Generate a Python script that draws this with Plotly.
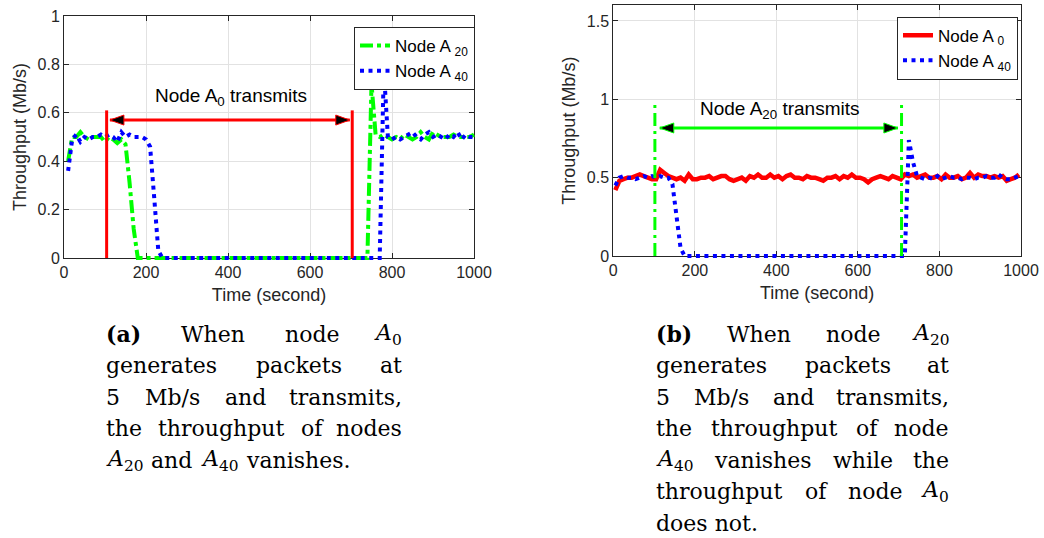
import plotly.graph_objects as go

W, H = 1044, 538

# ---------------- data ----------------
time_a = [10, 20, 30, 40, 50, 60, 70, 80, 90, 100,
          110, 120, 130, 140, 150, 160, 170, 180, 190, 200,
          210, 220, 230, 240, 250, 260, 270, 280, 290, 300,
          310, 320, 330, 340, 350, 360, 370, 380, 390, 400,
          410, 420, 430, 440, 450, 460, 470, 480, 490, 500,
          510, 520, 530, 540, 550, 560, 570, 580, 590, 600,
          610, 620, 630, 640, 650, 660, 670, 680, 690, 700,
          710, 720, 730, 740, 750, 760, 770, 780, 790, 800,
          810, 820, 830, 840, 850, 860, 870, 880, 890, 900,
          910, 920, 930, 940, 950, 960, 970, 980, 990, 1000]

a20_left = [0.40, 0.50, 0.50, 0.52, 0.50, 0.49, 0.50, 0.50, 0.50, 0.48,
            0.50, 0.49, 0.475, 0.49, 0.47, 0.31, 0.12, 0, 0, 0,
            0, 0, 0, 0, 0, 0, 0, 0, 0, 0,
            0, 0, 0, 0, 0, 0, 0, 0, 0, 0,
            0, 0, 0, 0, 0, 0, 0, 0, 0, 0,
            0, 0, 0, 0, 0, 0, 0, 0, 0, 0,
            0, 0, 0, 0, 0, 0, 0, 0, 0, 0,
            0, 0, 0, 0, 0.72, 0.51, 0.50, 0.51, 0.50, 0.49,
            0.50, 0.49, 0.51, 0.50, 0.49, 0.50, 0.52, 0.50, 0.49, 0.52,
            0.51, 0.50, 0.50, 0.50, 0.51, 0.50, 0.50, 0.50, 0.50, 0.51]

a40_left = [0.36, 0.49, 0.51, 0.48, 0.50, 0.49, 0.50, 0.50, 0.51, 0.50,
            0.51, 0.50, 0.48, 0.52, 0.50, 0.51, 0.50, 0.50, 0.50, 0.49,
            0.46, 0.25, 0.03, 0, 0, 0, 0, 0, 0, 0,
            0, 0, 0, 0, 0, 0, 0, 0, 0, 0,
            0, 0, 0, 0, 0, 0, 0, 0, 0, 0,
            0, 0, 0, 0, 0, 0, 0, 0, 0, 0,
            0, 0, 0, 0, 0, 0, 0, 0, 0, 0,
            0, 0, 0, 0, 0, 0, 0, 0.78, 0.50, 0.49,
            0.50, 0.49, 0.50, 0.51, 0.52, 0.50, 0.49, 0.51, 0.52, 0.50,
            0.51, 0.50, 0.49, 0.51, 0.50, 0.52, 0.49, 0.51, 0.50, 0.50]

time_b = [5, 15, 25, 35, 45, 55, 65, 75, 85, 95,
          105, 115, 125, 135, 145, 155, 165, 175, 185, 195,
          205, 215, 225, 235, 245, 255, 265, 275, 285, 295,
          305, 315, 325, 335, 345, 355, 365, 375, 385, 395,
          405, 415, 425, 435, 445, 455, 465, 475, 485, 495,
          505, 515, 525, 535, 545, 555, 565, 575, 585, 595,
          605, 615, 625, 635, 645, 655, 665, 675, 685, 695,
          705, 715, 725, 735, 745, 755, 765, 775, 785, 795,
          805, 815, 825, 835, 845, 855, 865, 875, 885, 895,
          905, 915, 925, 935, 945, 955, 965, 975, 985, 995]

a0_right = [0.42, 0.48, 0.49, 0.50, 0.50, 0.51, 0.52, 0.51, 0.50, 0.49,
            0.49, 0.55, 0.53, 0.51, 0.50, 0.49, 0.50, 0.48, 0.52, 0.49,
            0.49, 0.50, 0.50, 0.51, 0.49, 0.50, 0.51, 0.51, 0.49, 0.48,
            0.49, 0.50, 0.48, 0.51, 0.50, 0.52, 0.50, 0.50, 0.52, 0.50,
            0.51, 0.49, 0.51, 0.52, 0.50, 0.50, 0.49, 0.51, 0.50, 0.50,
            0.49, 0.48, 0.50, 0.50, 0.51, 0.49, 0.51, 0.50, 0.52, 0.50,
            0.50, 0.49, 0.47, 0.49, 0.50, 0.51, 0.50, 0.49, 0.51, 0.50,
            0.49, 0.52, 0.51, 0.52, 0.50, 0.51, 0.52, 0.50, 0.50, 0.51,
            0.49, 0.52, 0.50, 0.50, 0.51, 0.49, 0.50, 0.53, 0.50, 0.52,
            0.51, 0.51, 0.50, 0.51, 0.50, 0.51, 0.48, 0.49, 0.50, 0.52]

a40_right = [0.45, 0.50, 0.51, 0.50, 0.50, 0.49, 0.50, 0.51, 0.50, 0.51,
             0.50, 0.51, 0.50, 0.50, 0.46, 0.25, 0.05, 0, 0, 0,
             0, 0, 0, 0, 0, 0, 0, 0, 0, 0,
             0, 0, 0, 0, 0, 0, 0, 0, 0, 0,
             0, 0, 0, 0, 0, 0, 0, 0, 0, 0,
             0, 0, 0, 0, 0, 0, 0, 0, 0, 0,
             0, 0, 0, 0, 0, 0, 0, 0, 0, 0,
             0, 0, 0.74, 0.60, 0.51, 0.50, 0.49, 0.50, 0.49, 0.51,
             0.49, 0.50, 0.51, 0.50, 0.50, 0.49, 0.50, 0.50, 0.49, 0.50,
             0.50, 0.51, 0.50, 0.50, 0.52, 0.50, 0.49, 0.49, 0.50, 0.51]

x_ticks = [0, 200, 400, 600, 800, 1000]
y_ticks_a = [0, 0.2, 0.4, 0.6, 0.8, 1]
y_ticks_b = [0, 0.5, 1, 1.5]

# transmit-interval markers (seconds) and arrow extent
interval_a = [104, 703]
arrow_a = [112, 697]
interval_b = [102, 707]
arrow_b = [114, 698]

GREEN = "#00ff00"
BLUE = "#0000ff"
RED = "#ff0000"
SANS = "Liberation Sans, Arial, sans-serif"
SERIF = "DejaVu Serif, serif"
INK = "#262626"

GREEN_DASH = "13px,4px,4px,4px"
BLUE_DOT = "4px,4.5px"

# plot-area boxes in pixels (left, top, right, bottom)
BOX_A = (64, 16, 474, 258)
BOX_B = (613.3, 5.3, 1021, 256)
X_RANGE = (0, 1000)
Y_RANGE_A = (0, 1)
Y_RANGE_B = (0, 1.6)
PAD = 4  # px of extra room so lines on the axis edges are not half clipped


def px_x(p):
    return p / W


def px_y(p):
    return 1 - p / H


def padded(box, xr, yr, pad):
    l, t, r, b = box
    ux = (xr[1] - xr[0]) / (r - l)
    uy = (yr[1] - yr[0]) / (b - t)
    return (dict(domain=[px_x(l - pad), px_x(r + pad)], range=[xr[0] - pad * ux, xr[1] + pad * ux]),
            dict(domain=[px_y(b + pad), px_y(t - pad)], range=[yr[0] - pad * uy, yr[1] + pad * uy]))


fig = go.Figure()

fig.add_trace(go.Scatter(x=time_a, y=a20_left, mode="lines", name="Node A <sub>20</sub>",
                         line=dict(color=GREEN, width=4, dash=GREEN_DASH),
                         xaxis="x3", yaxis="y3", legend="legend"))
fig.add_trace(go.Scatter(x=time_a, y=a40_left, mode="lines", name="Node A <sub>40</sub>",
                         line=dict(color=BLUE, width=4, dash=BLUE_DOT),
                         xaxis="x3", yaxis="y3", legend="legend"))
fig.add_trace(go.Scatter(x=time_b, y=a0_right, mode="lines", name="Node A <sub>0</sub>",
                         line=dict(color=RED, width=4.5),
                         xaxis="x4", yaxis="y4", legend="legend2"))
fig.add_trace(go.Scatter(x=time_b, y=a40_right, mode="lines", name="Node A <sub>40</sub>",
                         line=dict(color=BLUE, width=4, dash=BLUE_DOT),
                         xaxis="x4", yaxis="y4", legend="legend2"))

axis_common = dict(
    showline=True, linecolor=INK, linewidth=1, mirror="ticks",
    ticks="inside", ticklen=5, tickcolor=INK, tickwidth=1,
    showgrid=True, gridcolor="#e2e2e2", gridwidth=1, zeroline=False,
    tickfont=dict(family=SANS, size=16, color=INK),
    automargin=False, layer="below traces",
)
hidden = dict(visible=False, showgrid=False, zeroline=False, fixedrange=True)

x3, y3 = padded(BOX_A, X_RANGE, Y_RANGE_A, PAD)
x4, y4 = padded(BOX_B, X_RANGE, Y_RANGE_B, PAD)


def title_font():
    return dict(family=SANS, size=18, color=INK)


fig.update_layout(
    width=W, height=H,
    margin=dict(l=0, r=0, t=0, b=0),
    paper_bgcolor="white", plot_bgcolor="rgba(0,0,0,0)",
    xaxis=dict(domain=[px_x(BOX_A[0]), px_x(BOX_A[2])], range=list(X_RANGE), tickvals=x_ticks,
               anchor="y", title=dict(text="Time (second)", font=title_font(), standoff=8),
               **axis_common),
    yaxis=dict(domain=[px_y(BOX_A[3]), px_y(BOX_A[1])], range=list(Y_RANGE_A), tickvals=y_ticks_a,
               anchor="x", title=dict(text="Throughput (Mb/s)", font=title_font(), standoff=6),
               **axis_common),
    xaxis2=dict(domain=[px_x(BOX_B[0]), px_x(BOX_B[2])], range=list(X_RANGE), tickvals=x_ticks,
                anchor="y2", title=dict(text="Time (second)", font=title_font(), standoff=8),
                **axis_common),
    yaxis2=dict(domain=[px_y(BOX_B[3]), px_y(BOX_B[1])], range=list(Y_RANGE_B), tickvals=y_ticks_b,
                anchor="x2", title=dict(text="Throughput (Mb/s)", font=title_font(), standoff=6),
                **axis_common),
    xaxis3=dict(anchor="y3", **x3, **hidden),
    yaxis3=dict(anchor="x3", **y3, **hidden),
    xaxis4=dict(anchor="y4", **x4, **hidden),
    yaxis4=dict(anchor="x4", **y4, **hidden),
    legend=dict(x=px_x(354), y=px_y(27), xanchor="left", yanchor="top",
                bgcolor="white", bordercolor=INK, borderwidth=1,
                font=dict(family=SANS, size=17, color="black"),
                itemwidth=30, tracegroupgap=0),
    legend2=dict(x=px_x(897), y=px_y(16.7), xanchor="left", yanchor="top",
                 bgcolor="white", bordercolor=INK, borderwidth=1,
                 font=dict(family=SANS, size=17, color="black"),
                 itemwidth=30, tracegroupgap=0),
    showlegend=True,
)

shapes = []
annotations = []

# ---- left panel: Node A0 transmits ----
for xv in interval_a:
    shapes.append(dict(type="line", xref="x", yref="y", x0=xv, x1=xv, y0=0, y1=0.61,
                       line=dict(color=RED, width=3)))
shapes.append(dict(type="line", xref="x", yref="y", x0=arrow_a[0], x1=arrow_a[1], y0=0.57, y1=0.57,
                   line=dict(color=RED, width=3)))
shapes.append(dict(type="path", xref="x", yref="y", xsizemode="pixel", ysizemode="pixel",
                   xanchor=arrow_a[0], yanchor=0.57, path="M0,0 L14,5 L14,-5 Z",
                   fillcolor="black", line=dict(color=RED, width=1)))
shapes.append(dict(type="path", xref="x", yref="y", xsizemode="pixel", ysizemode="pixel",
                   xanchor=arrow_a[1], yanchor=0.57, path="M0,0 L-14,5 L-14,-5 Z",
                   fillcolor="black", line=dict(color=RED, width=1)))
annotations.append(dict(xref="x", yref="y", x=407, y=0.665, showarrow=False,
                        text="Node A<sub>0</sub> transmits",
                        font=dict(family=SANS, size=19, color="black")))

# ---- right panel: Node A20 transmits ----
for xv in interval_b:
    shapes.append(dict(type="line", xref="x2", yref="y2", x0=xv, x1=xv, y0=0, y1=0.98,
                       line=dict(color=GREEN, width=3, dash="13px,5px,3px,5px")))
shapes.append(dict(type="line", xref="x2", yref="y2", x0=arrow_b[0], x1=arrow_b[1], y0=0.817, y1=0.817,
                   line=dict(color=GREEN, width=3)))
shapes.append(dict(type="path", xref="x2", yref="y2", xsizemode="pixel", ysizemode="pixel",
                   xanchor=arrow_b[0], yanchor=0.817, path="M0,0 L14,5 L14,-5 Z",
                   fillcolor="black", line=dict(color=GREEN, width=1)))
shapes.append(dict(type="path", xref="x2", yref="y2", xsizemode="pixel", ysizemode="pixel",
                   xanchor=arrow_b[1], yanchor=0.817, path="M0,0 L-14,5 L-14,-5 Z",
                   fillcolor="black", line=dict(color=GREEN, width=1)))
annotations.append(dict(xref="x2", yref="y2", x=408, y=0.93, showarrow=False,
                        text="Node A<sub>20</sub> transmits",
                        font=dict(family=SANS, size=19, color="black")))

# ---- captions: justified text, laid out word by word ----
CAP_SIZE = 22
# approximate DejaVu Serif advance widths (em)
EM = {
    "a": .596, "b": .640, "c": .560, "d": .640, "e": .592, "f": .370, "g": .640, "h": .644,
    "i": .320, "k": .618, "l": .320, "m": .948, "n": .644, "o": .602, "p": .640, "r": .478,
    "s": .513, "t": .402, "u": .644, "v": .565, "w": .856, "y": .565, "M": .995, "W": 1.03,
    "/": .337, ",": .318, ".": .318, "(": .39, ")": .39, " ": .318,
}


def word(kind, s):
    """Return (html, width_px) for a caption word."""
    if kind == "math":           # italic A with a numeric subscript
        w = .722 + .7 * .636 * len(s)
        return "<i>A</i><sub>%s</sub>" % s, w * CAP_SIZE
    if kind == "bold":
        return "<b>%s</b>" % s, 1.65 * CAP_SIZE
    w = sum(EM.get(c, .636) for c in s)
    return s, w * CAP_SIZE


cap_a = [
    ([("bold", "(a)"), ("t", "When"), ("t", "node"), ("math", "0")], True),
    ([("t", "generates"), ("t", "packets"), ("t", "at")], True),
    ([("t", "5"), ("t", "Mb/s"), ("t", "and"), ("t", "transmits,")], True),
    ([("t", "the"), ("t", "throughput"), ("t", "of"), ("t", "nodes")], True),
    ([("math", "20"), ("t", "and"), ("math", "40"), ("t", "vanishes.")], False),
]
cap_b = [
    ([("bold", "(b)"), ("t", "When"), ("t", "node"), ("math", "20")], True),
    ([("t", "generates"), ("t", "packets"), ("t", "at")], True),
    ([("t", "5"), ("t", "Mb/s"), ("t", "and"), ("t", "transmits,")], True),
    ([("t", "the"), ("t", "throughput"), ("t", "of"), ("t", "node")], True),
    ([("math", "40"), ("t", "vanishes"), ("t", "while"), ("t", "the")], True),
    ([("t", "throughput"), ("t", "of"), ("t", "node"), ("math", "0")], True),
    ([("t", "does not.")], False),
]


def add_caption(lines, left, right):
    for i, (words, justify) in enumerate(lines):
        yc = 334 + 31.5 * i
        items = [word(k, s) for k, s in words]
        total = sum(w for _, w in items)
        if justify and len(items) > 1:
            gap = (right - left - total) / (len(items) - 1)
        else:
            gap = 0.42 * CAP_SIZE
        x = left
        for j, (txt, w) in enumerate(items):
            last = justify and j == len(items) - 1 and len(items) > 1
            annotations.append(dict(xref="paper", yref="paper",
                                    x=px_x(right if last else x), y=px_y(yc),
                                    xanchor="right" if last else "left", yanchor="middle",
                                    showarrow=False, text=txt, borderpad=0,
                                    font=dict(family=SERIF, size=CAP_SIZE, color="black")))
            x += w + gap


add_caption(cap_a, 105, 403)
add_caption(cap_b, 655, 950)

fig.update_layout(shapes=shapes, annotations=annotations)

fig.write_html("out.html")
